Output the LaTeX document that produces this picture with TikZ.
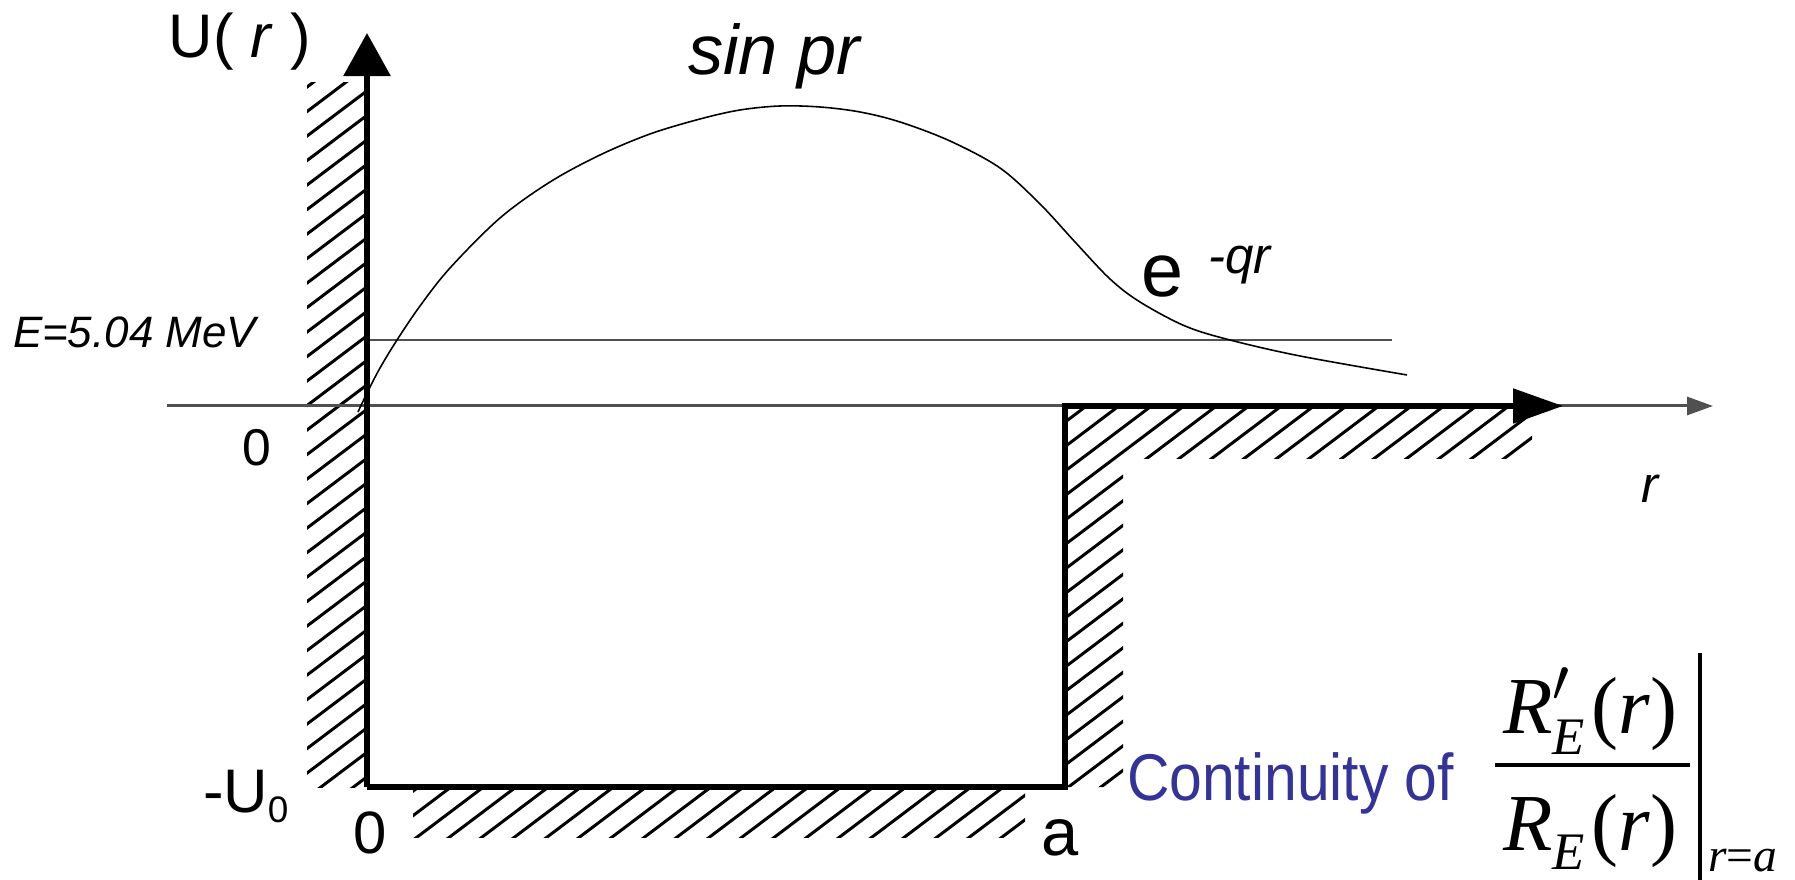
\documentclass[tikz,border=0pt]{standalone}
\usepackage{graphicx}
\usepackage{fontspec}
\setmainfont{Liberation Sans}
\newfontfamily\tms{Liberation Serif}
\usetikzlibrary{arrows.meta}
\definecolor{axisgray}{RGB}{80,80,80}
\definecolor{textblue}{RGB}{51,51,153}
\newcommand\fsz[1]{\fontsize{#1}{#1}\selectfont}
\newcommand\hatchlines{\foreach \k in {0,...,100}{\draw[hatchline] (0,{\k*24.5}) -- ++(1800,-1357);}}
\begin{document}
\begin{tikzpicture}[x=0.01cm,y=-0.01cm,
  hatchline/.style={line width=0.85pt,black},
  wall/.style={line width=1.45pt,black,line join=miter},
  lbl/.style={inner sep=0pt,outer sep=0pt},
  thinaxis/.style={line width=0.85pt,axisgray},
  curve/.style={line width=0.45pt,black},
]
\useasboundingbox (0,0) rectangle (1795,880);
\fill[white] (0,0) rectangle (1795,880);

% key points
\coordinate (Top) at (367,33);
\coordinate (BL) at (367,787);
\coordinate (BR) at (1065,787);
\coordinate (A) at (1065,406);
\coordinate (ThickEnd) at (1563,406);
\coordinate (AxL) at (167,406);
\coordinate (AxR) at (1713,406);
\coordinate (E1) at (367,340);
\coordinate (E2) at (1392,340);
\coordinate (FracL) at (1495,765);
\coordinate (FracR) at (1690,765);
\coordinate (BarT) at (1700,653);
\coordinate (BarB) at (1700,880);

% hatching
\begin{scope}\clip (307,83) rectangle (367,787); \hatchlines \end{scope}
\begin{scope}\clip (413,789) rectangle (1025,837); \hatchlines \end{scope}
\begin{scope}\clip (1065,406) -- (1532,406) -- (1532,459) -- (1123,459) -- (1123,787) -- (1065,787) -- cycle; \hatchlines \end{scope}

% thin r axis
\draw[thinaxis,-{Triangle[length=0.26cm,width=0.18cm]}] (AxL) -- (AxR);
% energy level
\draw[line width=0.5pt,axisgray] (E1) -- (E2);
% wave function
\draw[curve] plot[smooth,tension=0.55] coordinates {(358,412) (367,393) (380,368) (397,340) (420,306) (450,268) (500,218) (550,182) (600,155) (650,134) (700,119) (740,110) (780,106) (820,107) (860,112) (900,122) (950,141) (1000,168) (1040,204) (1075,242) (1110,279) (1140,302) (1185,326) (1230,340) (1300,356) (1407,375)};

% well
\draw[wall,-{Triangle[length=0.5cm,width=0.34cm]}] (BL) -- (BR) -- (A) -- (ThickEnd);
\draw[line width=1.7pt,-{Triangle[length=0.43cm,width=0.46cm]}] (BL) -- (Top);

% labels
\node[lbl,anchor=base] (Ur) at (240,58) {\fsz{17.5}U( \textit{r} )};
\node[lbl,anchor=base west] (sinpr) at (688,75) {\fsz{20}\itshape sin pr};
\node[lbl,anchor=base west] (e) at (1141,297) {\fsz{21.5}e};
\node[lbl,anchor=base west] (qr) at (1208,274) {\fsz{14.5}\itshape -qr};
\node[lbl,anchor=base west] (Elab) at (13,348) {\fsz{12.5}\itshape E=5.04 MeV};
\node[lbl] (zero1) at (257,448) {\fsz{14.7}0};
\node[lbl,anchor=base west] (U0) at (203,812) {\fsz{17.5}-U\raisebox{-3.1pt}{\fsz{10.5}0}};
\node[lbl] (zero2) at (370,833) {\fsz{17}0};
\node[lbl] (alab) at (1060,838) {\fsz{19}a};
\node[lbl] (rlab) at (1650,489) {\fsz{14.5}\itshape r};

% continuity condition
\node[lbl,anchor=base west,text=textblue] (cont) at (1127,800) {\fsz{18.8}\scalebox{0.89}[1]{Continuity of}};
\node[lbl,anchor=base west] (num) at (1503,733) {\tms\fsz{23}\itshape R\rlap{$^{\prime}$}\raisebox{-6pt}{\fsz{15}E}\hspace{2pt}\upshape(\itshape r\upshape)};
\node[lbl,anchor=base west] (den) at (1503,850) {\tms\fsz{23}\itshape R\raisebox{-5.5pt}{\fsz{15}E}\hspace{2pt}\upshape(\itshape r\upshape)};
\draw[line width=1.1pt] (FracL) -- (FracR);
\draw[line width=1pt] (BarT) -- (BarB);
\node[lbl,anchor=base west] (sub) at (1708,871) {\tms\fsz{13.5}\itshape r\upshape=\itshape a};
\end{tikzpicture}
\end{document}
